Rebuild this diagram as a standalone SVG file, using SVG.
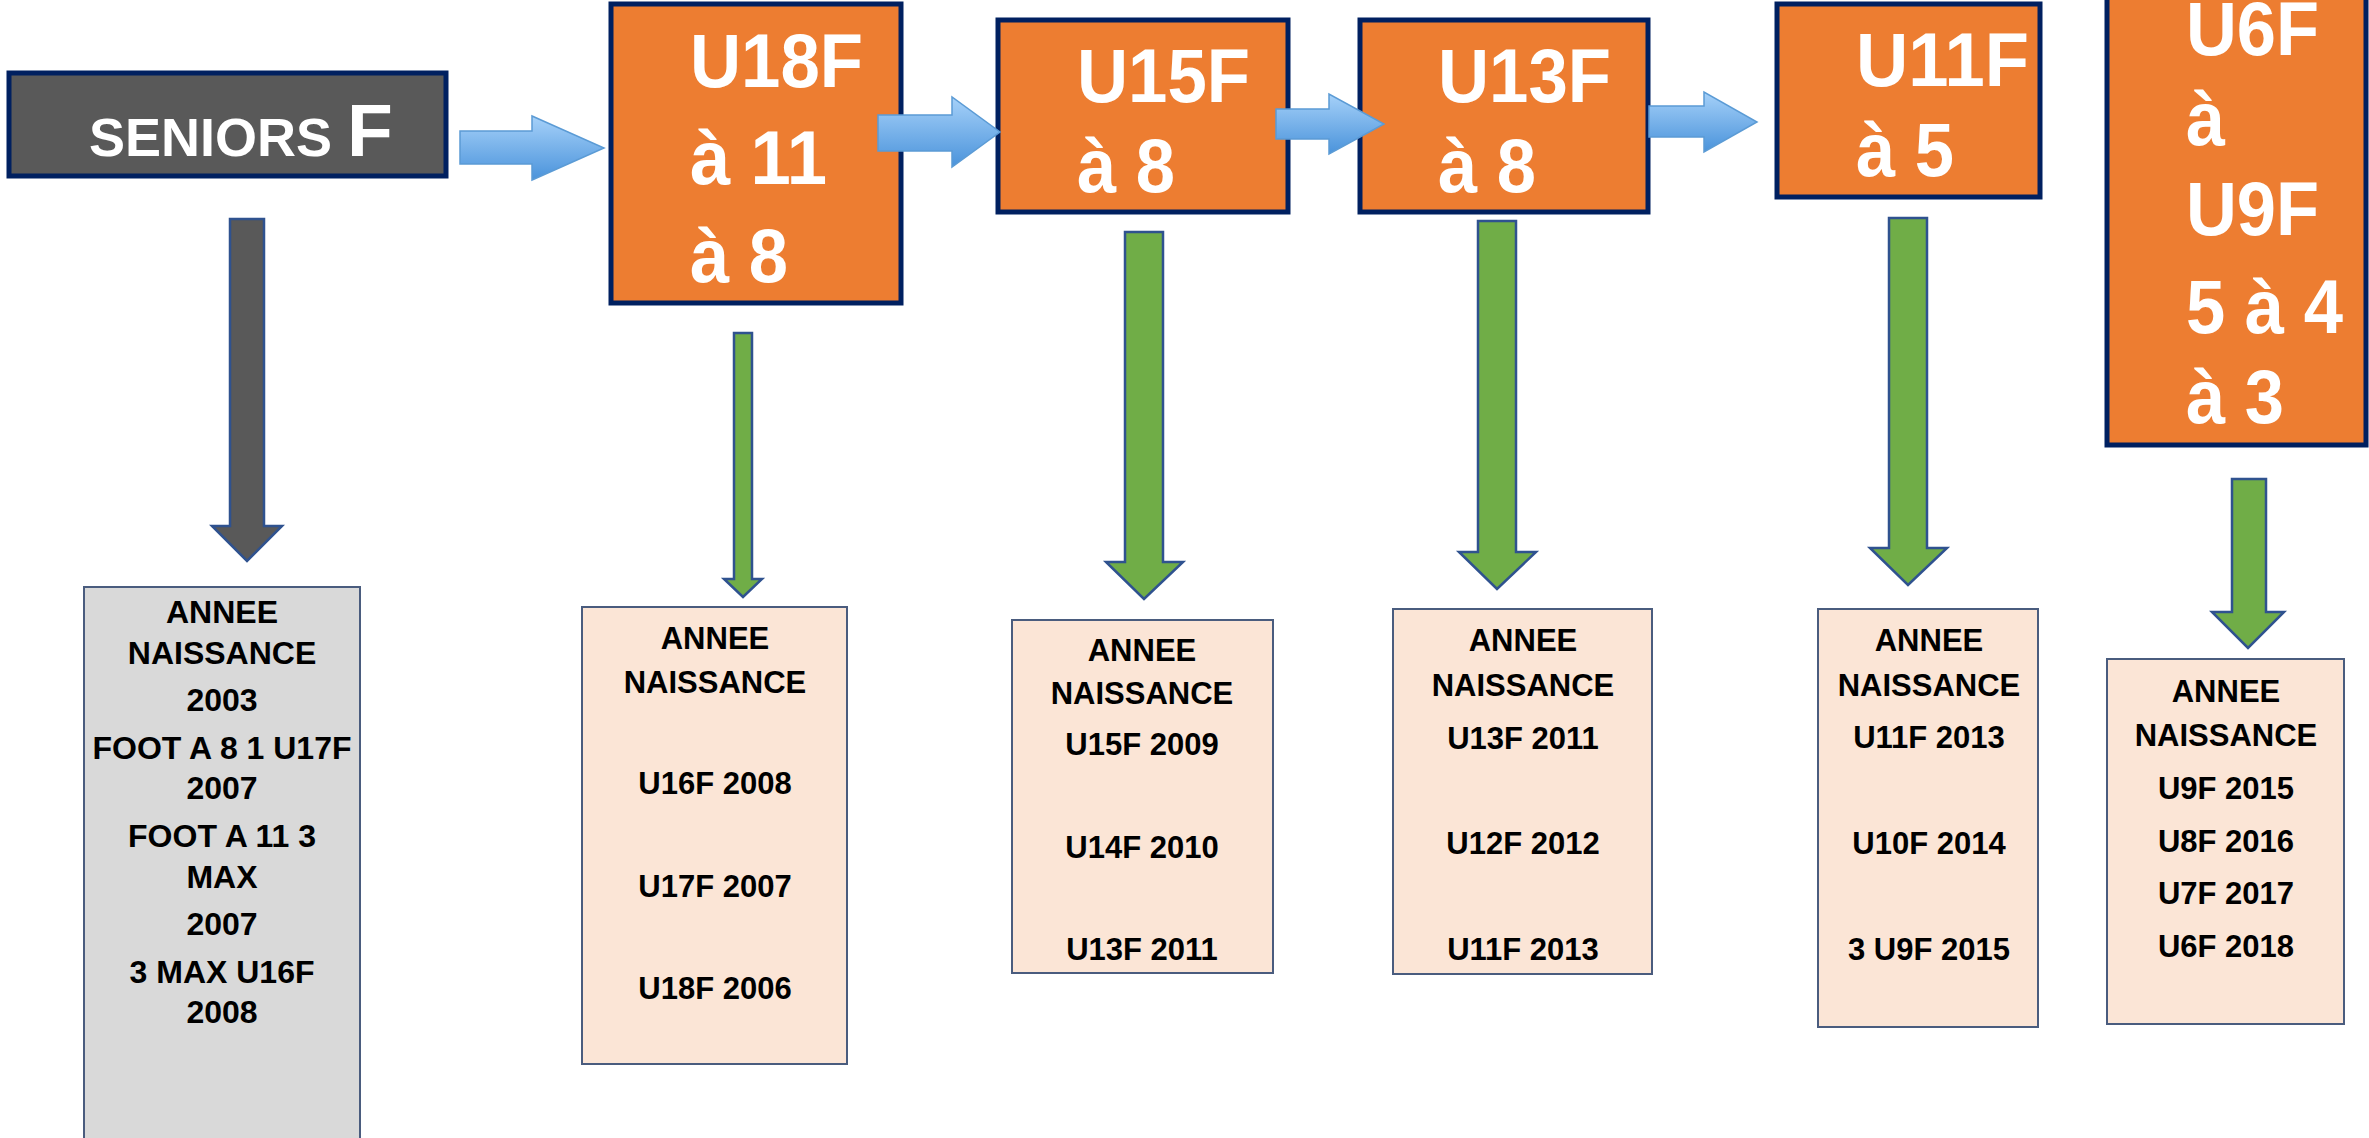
<svg xmlns="http://www.w3.org/2000/svg" width="2369" height="1138" viewBox="0 0 2369 1138">
<defs>
<linearGradient id="blueGrad" x1="0" y1="0" x2="0" y2="1">
<stop offset="0" stop-color="#A6D1F9"/>
<stop offset="1" stop-color="#4A93DB"/>
</linearGradient>
<style>
.orange{fill:#ED7D31;stroke:#002060;stroke-width:5}
.otxt{font-family:"Liberation Sans",Arial,sans-serif;font-weight:bold;font-size:76px;fill:#FFFFFF}
.pink{fill:#FBE5D6;stroke:#4A5C7E;stroke-width:2}
.grey{fill:#D9D9D9;stroke:#4A5C7E;stroke-width:2}
.btxt{font-family:"Liberation Sans",Arial,sans-serif;font-weight:bold;font-size:31px;fill:#000000;text-anchor:middle}
.gtxt{font-size:32px}
.blue{fill:url(#blueGrad);stroke:#5B9BD5;stroke-width:1.5}
.green{fill:#70AD47;stroke:#2F528F;stroke-width:2.5}
.darr{fill:#595959;stroke:#2F528F;stroke-width:2.5}
</style>
</defs>
<rect width="2369" height="1138" fill="#FFFFFF"/>

<g id="seniors">
<rect x="9" y="73" width="437" height="103" fill="#595959" stroke="#002060" stroke-width="5"/>
<text x="89" y="156" font-family="Liberation Sans, Arial, sans-serif" font-weight="bold" fill="#FFFFFF"><tspan font-size="54">SENIORS </tspan><tspan font-size="75">F</tspan></text>
</g>

<g id="u18f">
<rect class="orange" x="611" y="4" width="290" height="299"/>
<text class="otxt" x="690" y="87" textLength="173" lengthAdjust="spacingAndGlyphs">U18F</text>
<text class="otxt" x="690" y="184" textLength="137" lengthAdjust="spacingAndGlyphs">à 11</text>
<text class="otxt" x="690" y="282" textLength="98" lengthAdjust="spacingAndGlyphs">à 8</text>
</g>

<g id="u15f">
<rect class="orange" x="998" y="20" width="290" height="192"/>
<text class="otxt" x="1077" y="102" textLength="173" lengthAdjust="spacingAndGlyphs">U15F</text>
<text class="otxt" x="1077" y="192" textLength="98" lengthAdjust="spacingAndGlyphs">à 8</text>
</g>

<g id="u13f">
<rect class="orange" x="1360" y="20" width="288" height="192"/>
<text class="otxt" x="1438" y="102" textLength="173" lengthAdjust="spacingAndGlyphs">U13F</text>
<text class="otxt" x="1438" y="192" textLength="98" lengthAdjust="spacingAndGlyphs">à 8</text>
</g>

<g id="u11f">
<rect class="orange" x="1777" y="4" width="263" height="193"/>
<text class="otxt" x="1856" y="86" textLength="173" lengthAdjust="spacingAndGlyphs">U11F</text>
<text class="otxt" x="1856" y="176" textLength="98" lengthAdjust="spacingAndGlyphs">à 5</text>
</g>

<g id="u6f">
<rect class="orange" x="2107" y="-10" width="259" height="455"/>
<text class="otxt" x="2186" y="55" textLength="133" lengthAdjust="spacingAndGlyphs">U6F</text>
<text class="otxt" x="2186" y="145" textLength="39" lengthAdjust="spacingAndGlyphs">à</text>
<text class="otxt" x="2186" y="235" textLength="133" lengthAdjust="spacingAndGlyphs">U9F</text>
<text class="otxt" x="2186" y="333" textLength="157" lengthAdjust="spacingAndGlyphs">5 à 4</text>
<text class="otxt" x="2186" y="423" textLength="98" lengthAdjust="spacingAndGlyphs">à 3</text>
</g>

<g id="box-seniors">
<rect class="grey" x="84" y="587" width="276" height="560"/>
<text class="btxt gtxt" x="222" y="623">ANNEE</text>
<text class="btxt gtxt" x="222" y="664">NAISSANCE</text>
<text class="btxt gtxt" x="222" y="711">2003</text>
<text class="btxt gtxt" x="222" y="759">FOOT A 8 1 U17F</text>
<text class="btxt gtxt" x="222" y="799">2007</text>
<text class="btxt gtxt" x="222" y="847">FOOT A 11 3</text>
<text class="btxt gtxt" x="222" y="888">MAX</text>
<text class="btxt gtxt" x="222" y="935">2007</text>
<text class="btxt gtxt" x="222" y="983">3 MAX U16F</text>
<text class="btxt gtxt" x="222" y="1023">2008</text>
</g>

<g id="box-u18f">
<rect class="pink" x="582" y="607" width="265" height="457"/>
<text class="btxt" x="715" y="649">ANNEE</text>
<text class="btxt" x="715" y="693">NAISSANCE</text>
<text class="btxt" x="715" y="794">U16F 2008</text>
<text class="btxt" x="715" y="897">U17F 2007</text>
<text class="btxt" x="715" y="999">U18F 2006</text>
</g>

<g id="box-u15f">
<rect class="pink" x="1012" y="620" width="261" height="353"/>
<text class="btxt" x="1142" y="661">ANNEE</text>
<text class="btxt" x="1142" y="704">NAISSANCE</text>
<text class="btxt" x="1142" y="755">U15F 2009</text>
<text class="btxt" x="1142" y="858">U14F 2010</text>
<text class="btxt" x="1142" y="960">U13F 2011</text>
</g>

<g id="box-u13f">
<rect class="pink" x="1393" y="609" width="259" height="365"/>
<text class="btxt" x="1523" y="651">ANNEE</text>
<text class="btxt" x="1523" y="696">NAISSANCE</text>
<text class="btxt" x="1523" y="749">U13F 2011</text>
<text class="btxt" x="1523" y="854">U12F 2012</text>
<text class="btxt" x="1523" y="960">U11F 2013</text>
</g>

<g id="box-u11f">
<rect class="pink" x="1818" y="609" width="220" height="418"/>
<text class="btxt" x="1929" y="651">ANNEE</text>
<text class="btxt" x="1929" y="696">NAISSANCE</text>
<text class="btxt" x="1929" y="748">U11F 2013</text>
<text class="btxt" x="1929" y="854">U10F 2014</text>
<text class="btxt" x="1929" y="960">3 U9F 2015</text>
</g>

<g id="box-u6f">
<rect class="pink" x="2107" y="659" width="237" height="365"/>
<text class="btxt" x="2226" y="702">ANNEE</text>
<text class="btxt" x="2226" y="746">NAISSANCE</text>
<text class="btxt" x="2226" y="799">U9F 2015</text>
<text class="btxt" x="2226" y="852">U8F 2016</text>
<text class="btxt" x="2226" y="904">U7F 2017</text>
<text class="btxt" x="2226" y="957">U6F 2018</text>
</g>

<g id="connectors">
<polygon class="blue" points="460,131 532,131 532,116 604,148 532,180 532,164 460,164"/>
<polygon class="blue" points="878,115 952,115 952,97 1000,132 952,167 952,151 878,151"/>
<polygon class="blue" points="1276,109 1329,109 1329,94 1384,124 1329,154 1329,139 1276,139"/>
<polygon class="blue" points="1649,106 1704,106 1704,92 1757,122 1704,152 1704,137 1649,137"/>
<polygon class="darr" points="230,219 264,219 264,526 282,526 247,561 212,526 230,526"/>
<polygon class="green" points="734,333 752,333 752,579 762,579 743,597 724,579 734,579"/>
<polygon class="green" points="1125,232 1163,232 1163,562 1183,562 1144,599 1106,562 1125,562"/>
<polygon class="green" points="1478,221 1516,221 1516,552 1536,552 1497,589 1459,552 1478,552"/>
<polygon class="green" points="1889,218 1927,218 1927,548 1947,548 1908,585 1870,548 1889,548"/>
<polygon class="green" points="2232,479 2266,479 2266,612 2284,612 2248,648 2212,612 2232,612"/>
</g>
</svg>
